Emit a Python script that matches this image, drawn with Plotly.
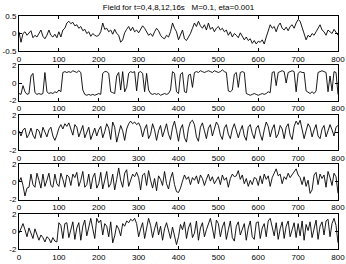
import plotly.graph_objects as go
from plotly.subplots import make_subplots

# sample positions (every 5 units) and the five field snapshots
x = list(range(0, 805, 5))

field_t0 = [
    0.05, -0.25, 0.0, 0.05, -0.05, 0.03, 0.08, -0.12, -0.05, -0.1, 0.02, 0.1, -0.08, -0.15, -0.05, 0.1, -0.05, -0.1, -0.02, -0.12,
    0.05, -0.1, 0.1, 0.15, 0.3, 0.35, 0.28, 0.32, 0.22, 0.25, 0.15, 0.2, 0.08, 0.12, 0.0, 0.05, -0.08, 0.0, -0.05, -0.08,
    -0.05, 0.05, 0.3, 0.12, 0.15, 0.05, 0.1, -0.02, 0.12, 0.0, -0.05, -0.25, -0.18, 0.02, 0.12, 0.2, 0.08, 0.18, 0.05, 0.1,
    0.02, 0.12, 0.22, 0.15, 0.05, -0.05, 0.0, -0.08, 0.05, 0.15, 0.08, -0.05, -0.12, -0.15, -0.05, -0.1, 0.05, 0.3, 0.15, 0.05,
    -0.18, -0.05, 0.1, -0.15, -0.2, -0.1, 0.0, 0.15, 0.3, 0.2, 0.35, 0.22, 0.15, 0.25, 0.1, 0.3, 0.12, 0.18, 0.05, 0.15,
    0.2, 0.1, 0.15, 0.05, 0.1, -0.05, 0.05, -0.1, 0.0, -0.05, -0.12, 0.02, -0.08, -0.18, -0.1, -0.2, -0.15, -0.28, -0.2, -0.3,
    -0.22, -0.25, -0.18, -0.3, -0.1, 0.05, 0.25, 0.15, 0.2, 0.05, 0.22, 0.3, 0.15, 0.1, 0.18, 0.08, 0.2, 0.25, 0.15, 0.3,
    0.4, 0.35, 0.15, 0.0, -0.18, -0.05, -0.1, 0.0, -0.05, 0.05, 0.15, 0.25, 0.1, 0.05, -0.05, 0.1, 0.05, 0.0, 0.12, 0.05,
    -0.05,
]

field_t4 = [
    -1.2, -1.3, -0.3, -1.0, -1.3, -1.2, 0.8, 1.1, -1.1, -1.3, -1.2, -1.3, -1.2, 1.2, -1.0, -1.2, -1.1, -1.2, -1.0, -1.1,
    -0.8, -1.0, 1.2, 1.3, 1.2, 1.3, 1.2, 1.4, 1.3, 1.2, 1.4, 1.2, -0.8, -1.3, -1.4, -1.3, -1.4, -1.3, -1.4, -1.3,
    -1.2, -1.3, 1.1, 1.3, 1.3, 1.1, -1.0, -1.1, -1.2, 0.8, 1.2, -0.8, 1.3, -1.0, -0.5, 1.1, 1.3, 1.2, 1.3, -0.9,
    1.2, 1.3, 1.1, -1.0, 1.1, -0.8, -1.2, -1.3, -1.2, -1.3, -1.2, -1.4, -1.3, -1.2, -1.3, -1.2, -0.8, 1.3, 1.1, -1.0,
    -1.2, 1.0, 1.2, -1.0, -1.1, 0.9, 1.0, -0.5, 1.2, 1.3, 1.2, 1.4, 1.3, 1.2, 1.3, 1.4, 1.3, 1.2, 1.4, 1.3,
    1.2, 1.3, 1.5, 1.3, 1.2, -0.9, -1.0, -0.8, 1.0, 1.2, -0.5, 1.2, 1.3, 1.2, -1.2, -1.3, -1.4, -1.3, -1.2, -1.3,
    -1.4, -1.3, -1.2, -1.3, -1.2, -1.0, -1.1, 1.2, 1.3, -0.3, 1.2, 1.3, 1.4, 1.3, 0.0, 1.2, 1.3, 1.4, 1.3, -1.0,
    1.1, 1.3, 1.2, 1.2, -0.9, -1.1, -1.2, -1.0, -1.2, -0.9, 1.2, 1.3, 1.4, 1.3, 1.2, -1.0, 0.8, -0.9, 1.3, 1.2,
    -1.3,
]

field_t8 = [
    0.2, -0.4, 0.3, 0.5, -0.6, -0.2, 0.5, -0.3, -0.7, 0.4, 0.2, -0.6, 0.6, 0.1, -0.5, 0.3, 0.6, -0.4, -0.9, -0.3,
    0.5, 0.9, 0.4, 1.0, 0.7, 1.1, 0.3, -0.3, 0.9, 0.6, -0.5, 0.2, 0.8, -0.6, 0.1, 0.6, -0.8, -0.2, 0.5, -0.4,
    0.3, 0.7, -0.6, 0.1, 1.0, 0.5, -0.8, 1.2, 0.6, -1.1, -0.3, 0.8, 0.2, -0.9, 0.4, 1.0, 1.3, 1.0, 1.2, 0.9,
    1.1, 0.6, -0.5, 0.4, 0.9, -0.7, -0.2, 1.0, 0.3, -0.9, 0.2, 0.8, -0.5, 0.3, 1.0, -0.2, -0.8, 0.6, 1.3, 0.2,
    -1.0, 0.4, 0.9, -0.6, -1.1, 0.5, 1.2, 1.4, 0.9, -0.5, -1.0, 0.6, 1.1, 0.2, -0.7, 0.5, 0.9, -0.4, 0.3, 1.2,
    0.8, -0.3, -0.8, 0.5, 0.9, -0.2, -0.7, 0.4, 1.0, 0.3, -0.6, 0.2, 0.8, -0.4, -0.9, 0.6, 0.9, -0.1, -0.7, 0.5,
    0.8, -0.2, -0.9, 0.3, 1.2, 0.7, -0.5, 0.4, 0.9, -0.6, -0.2, 0.8, 0.4, -0.7, 0.6, 1.0, -0.3, -0.8, 0.7, 1.3,
    0.9, 1.4, 0.5, -0.7, 0.2, 1.0, 0.6, -0.5, 0.3, 0.9, -0.4, -0.7, 0.4, 0.8, -0.5, 0.1, 0.9, 0.3, -0.4, 0.6,
    0.8,
]

field_t12 = [
    0.0, 0.5, -0.4, -1.6, -0.7, -0.6, 0.9, -0.3, -0.6, 1.0, 0.2, -0.7, 0.9, -0.5, 0.2, 1.0, -0.4, -0.6, 0.9, -0.2,
    -0.5, 1.0, 0.3, -0.6, 0.8, 0.6, -0.4, 0.9, 0.5, 1.1, -0.5, 0.2, 1.2, -0.6, -0.3, 0.9, -0.8, 0.5, 1.0, -0.7,
    -0.2, 1.1, -0.8, 0.4, 1.2, -0.6, -0.2, 0.9, -0.9, 0.3, 1.6, 0.2, -0.6, 1.0, 1.4, -0.5, 0.3, 0.9, 0.6, 1.1,
    0.5, -0.9, 0.8, 1.0, -0.4, 1.3, 0.2, -0.7, 0.4, -1.0, 0.7, 0.3, -0.4, 1.2, -0.2, -0.8, 0.4, 1.1, -0.3, -1.1,
    -1.2, -0.7, 0.1, 0.8, 0.3, 0.6, -0.3, 0.5, 0.2, 0.7, -0.2, 0.8, 0.4, -0.4, 0.3, 0.9, 0.1, 0.6, -0.2, 0.3,
    0.6, -0.3, 0.8, 0.2, 0.5, -0.6, 0.4, 0.9, 0.6, 0.7, 1.3, 0.3, 0.8, -0.2, 0.4, -0.5, 0.2, -0.3, 0.5, 0.4,
    -0.4, 0.7, -0.2, 0.9, 0.3, 0.7, -0.5, 0.5, 1.0, 1.5, 0.7, 0.9, -0.2, 0.6, 0.3, 1.0, 0.5, 0.8, 1.2, 1.5,
    0.8, 0.5, -0.3, 0.6, -0.5, 0.2, -1.3, -0.9, 0.8, 1.1, -0.3, 0.9, 0.4, 0.8, -0.6, 1.2, 0.5, -0.4, 1.0, 0.6,
    -1.3,
]

field_t16 = [
    -0.2, 0.3, 0.9, 0.2, -0.6, 0.4, -0.3, -0.8, 0.3, -0.5, -1.0, -0.4, -0.7, -1.2, -0.6, -0.8, -1.3, -0.7, -1.1, -1.2,
    1.0, 0.7, -0.8, 0.9, 1.0, -0.7, 0.2, 1.1, -0.9, 0.4, 1.0, -1.0, 0.6, 1.3, -0.5, 0.7, 1.5, 0.3, -0.8, 1.5,
    1.0, 1.3, -0.4, 0.9, 0.6, -0.6, 1.1, -1.3, -0.5, 0.7, 0.3, -0.5, 0.9, 0.6, 1.2, 1.0, 1.4, 1.2, 1.5, 0.9,
    -0.6, 0.3, 1.0, -0.8, 0.2, 1.5, 0.7, -0.7, 0.3, 1.1, -0.4, 0.6, -1.0, 0.3, 1.0, 0.2, -0.8, 0.5, -0.6, -1.5,
    -0.6, 0.8, 0.2, 1.1, -0.8, 0.4, 1.0, -0.7, -0.2, 1.2, -1.0, 0.4, 1.0, -0.6, 0.2, 0.8, 1.5, 0.4, -0.8, 1.3,
    0.9, -0.6, 0.5, 1.1, -0.9, 0.2, 1.2, -0.7, -1.1, 0.6, 1.1, -0.4, 0.4, 0.9, -1.0, 0.4, 1.2, -0.6, -0.9, 1.0,
    1.1, -0.8, 0.4, 0.9, -0.6, 1.2, 1.5, 0.5, -0.5, 1.0, -0.9, 0.3, 1.1, -0.8, 0.6, 1.2, -0.6, 0.2, 1.0, -0.7,
    0.9, -0.5, 1.2, -1.0, 0.8, 0.1, 1.1, -0.7, 0.5, 1.3, -0.9, 0.6, 1.1, -0.4, 1.2, 1.4, -0.6, 0.9, 1.5, 0.7,
    -1.3,
]

fields = [field_t0, field_t4, field_t8, field_t12, field_t16]
x_ticks = [0, 100, 200, 300, 400, 500, 600, 700, 800]
y_ticks_first = [-0.5, 0, 0.5]
y_ticks_rest = [-2, 0, 2]

fig = make_subplots(rows=5, cols=1, vertical_spacing=0.062)

for i, f in enumerate(fields):
    fig.add_trace(go.Scatter(x=x, y=f, mode="lines",
                             line=dict(color="black", width=0.9),
                             showlegend=False), row=i + 1, col=1)
    yt = y_ticks_first if i == 0 else y_ticks_rest
    fig.update_yaxes(range=[yt[0], yt[-1]], tickvals=yt,
                     ticktext=[str(v) for v in yt],
                     row=i + 1, col=1)

fig.update_xaxes(range=[0, 800], tickvals=x_ticks, ticks="inside", ticklen=3,
                 showline=True, mirror="ticks", linecolor="black", linewidth=1,
                 tickcolor="black", showgrid=False, zeroline=False,
                 automargin=False, ticklabeloverflow="allow")
fig.update_yaxes(ticks="inside", ticklen=3, showline=True, mirror="ticks",
                 linecolor="black", linewidth=1, tickcolor="black",
                 showgrid=False, zeroline=False, automargin=False,
                 ticklabeloverflow="allow")

fig.update_layout(
    width=346, height=264,
    margin=dict(l=19, r=8, t=16, b=15),
    paper_bgcolor="white", plot_bgcolor="white",
    font=dict(family="Liberation Sans, Arial, sans-serif", size=8, color="black"),
    title=dict(text="Field for t=0,4,8,12,16s\u00a0\u00a0\u00a0M=0.1, eta=0.001",
               xref="paper", x=0.5, xanchor="center", y=0.982, yanchor="top",
               font=dict(size=8)),
)

# the page body has a default 8px margin, which would push the figure out of the window
fig.write_html("out.html", config={"displayModeBar": False},
               post_script="document.body.style.margin='0';")
